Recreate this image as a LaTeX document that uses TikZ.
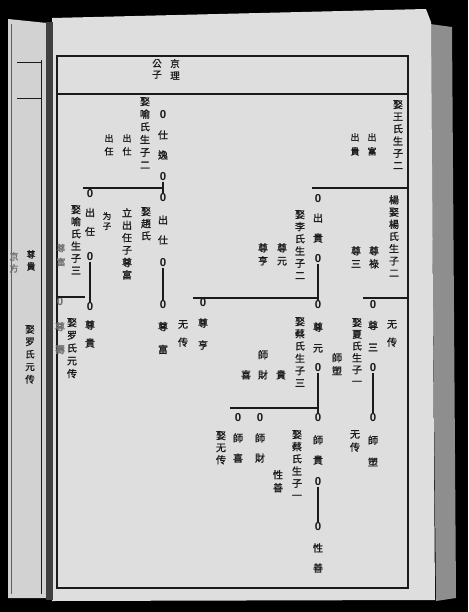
\documentclass[tikz,border=0pt]{standalone}
\usepackage{fontspec}
\setmainfont{Liberation Sans}
\newfontfamily\cjk[FakeBold=1.2]{Noto Sans CJK TC}
\definecolor{ink}{HTML}{1A1A1A}
\definecolor{faintink}{HTML}{6E6E6E}
\definecolor{pagebg}{HTML}{DEDEDE}
\definecolor{leftbg}{HTML}{D2D2D2}
\definecolor{shadowbg}{HTML}{8E8E8E}
\begin{document}
\begin{tikzpicture}[x=1pt,y=-1pt,
  desc/.style={font=\cjk\fontsize{10}{12.2}\selectfont, align=center, inner sep=0pt, anchor=north, text=ink},
  small/.style={font=\cjk\fontsize{9}{13}\selectfont, align=center, inner sep=0pt, anchor=north, text=ink},
  chain/.style={font=\cjk\fontsize{10}{20}\selectfont, align=center, inner sep=0pt, anchor=center, text=ink},
  zero/.style={font=\bfseries\fontsize{11.5}{12}\selectfont, inner sep=0.6pt, text=ink},
  faint/.style={text=faintink},
  rule/.style={draw=ink, line width=1.2pt},
  frameline/.style={draw=ink, line width=1.5pt}]
\useasboundingbox (0,0) rectangle (468,612);
% ---- scan background ----
\fill[black] (0,0) rectangle (468,612);
\fill[shadowbg] (430,24) -- (452,27) -- (456,598) -- (436,601) -- cycle;
\fill[leftbg] (8,19) -- (47,23) -- (47,598) -- (8,598) -- cycle;
\fill[pagebg] (52,18) -- (426,9) -- (431,22) -- (435,600) -- (52,601) -- cycle;
\fill[black!75] (46,22) rectangle (53,600);
\draw[ink, line width=0.8pt] (17,62) -- (42,62);
\draw[ink, line width=0.8pt] (17,98) -- (42,98);
\draw[ink, line width=0.9pt] (41,60) -- (41,594);
\draw[ink!70, line width=0.6pt] (11,24) -- (11,594);
% ---- frame ----
\draw[frameline] (57,56) rectangle (408,588);
\draw[frameline] (57,94) -- (408,94);
% ---- header ----
\node[desc, font=\cjk\fontsize{9.5}{11}\selectfont] (hg) at (157,59) {公\\子};
\node[desc, font=\cjk\fontsize{9.5}{12}\selectfont] (hl) at (175,59) {京\\理};
% ---- zero marks ----
\node[zero] (a1) at (163,115) {0};
\node[zero] (a2) at (163,177) {0};
\node[zero] (a3) at (163,198) {0};
\node[zero] (a4) at (163,263) {0};
\node[zero] (a5) at (163,305) {0};
\node[zero] (b1) at (90,194) {0};
\node[zero] (b2) at (90,257) {0};
\node[zero] (b3) at (90,307) {0};
\node[zero,faint] (c1) at (60,302) {0};
\node[zero] (d1) at (318,199) {0};
\node[zero] (d2) at (318,259) {0};
\node[zero] (d3) at (318,305) {0};
\node[zero] (d4) at (318,368) {0};
\node[zero] (d5) at (318,418) {0};
\node[zero] (d6) at (318,482) {0};
\node[zero] (d7) at (318,527) {0};
\node[zero] (e1) at (373,305) {0};
\node[zero] (e2) at (373,368) {0};
\node[zero] (e3) at (373,418) {0};
\node[zero] (f1) at (203,303) {0};
\node[zero] (g1) at (238,418) {0};
\node[zero] (g2) at (260,418) {0};
% ---- vertical connectors ----
\draw[rule] (a2) -- (a3);
\draw[rule] (a4) -- (a5);
\draw[rule] (b2) -- (b3);
\draw[rule] (d2) -- (d3);
\draw[rule] (d4) -- (d5);
\draw[rule] (d6) -- (d7);
\draw[rule] (e2) -- (e3);
% ---- generation lines ----
\coordinate (hA) at (83,188);
\draw[rule] (hA) -- (hA -| a2);
\coordinate (hB) at (407,188);
\draw[rule] (hB) -- ([xshift=-6pt]hB -| d1);
\coordinate (hC) at (193,298);
\draw[rule] (hC) -- (hC -| d3);
\coordinate (hD) at (407,298);
\draw[rule] (hD) -- ([xshift=-10pt]hD -| e1);
\coordinate (hE) at (57,297);
\coordinate (hE2) at (85,297);
\draw[rule] (hE) -- (hE2);
\coordinate (hF) at (230,408);
\draw[rule] (hF) -- (hF -| d5);
% ---- chain names ----
\node[chain] (ta1) at (163,145) {仕\\逸};
\node[chain] (ta2) at (163,230) {出\\仕};
\node[chain, font=\cjk\fontsize{10}{23}\selectfont] (ta3) at (163,338) {尊\\富};
\node[chain, font=\cjk\fontsize{10}{19}\selectfont] (tb1) at (90,222) {出\\任};
\node[chain, font=\cjk\fontsize{10}{18}\selectfont] (tb2) at (90,334) {尊\\貴};
\node[chain, faint, font=\cjk\fontsize{10}{23}\selectfont] (tc1) at (60,338) {尊\\壽};
\node[chain, faint, font=\cjk\fontsize{9}{14}\selectfont] (tc0) at (61,255) {尊\\富};
\node[chain] (td1) at (318,228) {出\\貴};
\node[chain, font=\cjk\fontsize{10}{21}\selectfont] (td2) at (318,337.5) {尊\\元};
\node[chain] (td3) at (318,450) {師\\貴};
\node[chain] (td4) at (318,558) {性\\善};
\node[chain, font=\cjk\fontsize{10}{22}\selectfont] (te1) at (373,336) {尊\\三};
\node[chain, font=\cjk\fontsize{10}{22}\selectfont] (te2) at (373,451) {師\\塑};
\node[chain, font=\cjk\fontsize{10}{22}\selectfont] (tf1) at (203,334) {尊\\亨};
\node[chain] (tg1) at (238,448) {師\\喜};
\node[chain] (tg2) at (260,448) {師\\財};
% ---- descriptions ----
\node[desc] (w1) at (398,100) {娶\\王\\氏\\生\\子\\二};
\node[small, font=\cjk\fontsize{9}{14}\selectfont] (w2) at (372,133) {出\\富};
\node[small, font=\cjk\fontsize{9}{14}\selectfont] (w3) at (355,133) {出\\貴};
\node[desc, font=\cjk\fontsize{10}{12.7}\selectfont] (w4) at (145,97) {娶\\喻\\氏\\生\\子\\二};
\node[small] (w5) at (127,134) {出\\仕};
\node[small] (w6) at (109,134) {出\\任};
\node[desc] (w7) at (146,207) {娶\\趙\\氏};
\node[desc, font=\cjk\fontsize{10}{12.4}\selectfont] (w8) at (127,208) {立\\出\\任\\子\\尊\\富};
\node[small, font=\cjk\fontsize{8.5}{10}\selectfont] (w9) at (107,212) {为\\子};
\node[desc] (w10) at (76,205) {娶\\喻\\氏\\生\\子\\三};
\node[desc, font=\cjk\fontsize{10}{12.8}\selectfont] (w11) at (72,318) {娶\\罗\\氏\\元\\传};
\node[desc, font=\cjk\fontsize{10}{18}\selectfont] (w12) at (183,320) {无\\传};
\node[desc] (w13) at (300,210) {娶\\李\\氏\\生\\子\\二};
\node[desc, font=\cjk\fontsize{10}{13}\selectfont] (w14) at (282,243) {尊\\元};
\node[desc, font=\cjk\fontsize{10}{13}\selectfont] (w15) at (263,243) {尊\\亨};
\node[desc] (w16) at (394,195) {楊\\娶\\楊\\氏\\生\\子\\二};
\node[desc, font=\cjk\fontsize{10}{13}\selectfont] (w17) at (374,246) {尊\\祿};
\node[desc, font=\cjk\fontsize{10}{13}\selectfont] (w18) at (356,246) {尊\\三};
\node[desc, font=\cjk\fontsize{10}{18}\selectfont] (w19) at (392,320) {无\\传};
\node[desc, font=\cjk\fontsize{10}{11.8}\selectfont] (w20) at (357,318) {娶\\夏\\氏\\生\\子\\一};
\node[desc, font=\cjk\fontsize{10}{13}\selectfont] (w21) at (337,353) {師\\塑};
\node[desc, font=\cjk\fontsize{10}{13}\selectfont] (w22) at (355,430) {无\\传};
\node[desc, font=\cjk\fontsize{10}{12.3}\selectfont] (w23) at (300,317) {娶\\蔡\\氏\\生\\子\\三};
\node[desc] (w24) at (281,370) {貴};
\node[desc, font=\cjk\fontsize{10}{20}\selectfont] (w25) at (263,350) {師\\財};
\node[desc] (w26) at (246,370) {喜};
\node[desc] (w27) at (297,430) {娶\\蔡\\氏\\生\\子\\一};
\node[desc, font=\cjk\fontsize{10}{13}\selectfont] (w28) at (278,470) {性\\善};
\node[desc] (w29) at (221,431) {娶\\无\\传};
% ---- left page ----
\node[small, font=\cjk\fontsize{9}{12}\selectfont] (lp1) at (31,250) {尊\\貴};
\node[small, faint, font=\cjk\fontsize{9}{12}\selectfont] (lp2) at (14,252) {京\\方};
\node[small, font=\cjk\fontsize{9.5}{12.5}\selectfont] (lp3) at (30,325) {娶\\罗\\氏\\元\\传};
\end{tikzpicture}
\end{document}
